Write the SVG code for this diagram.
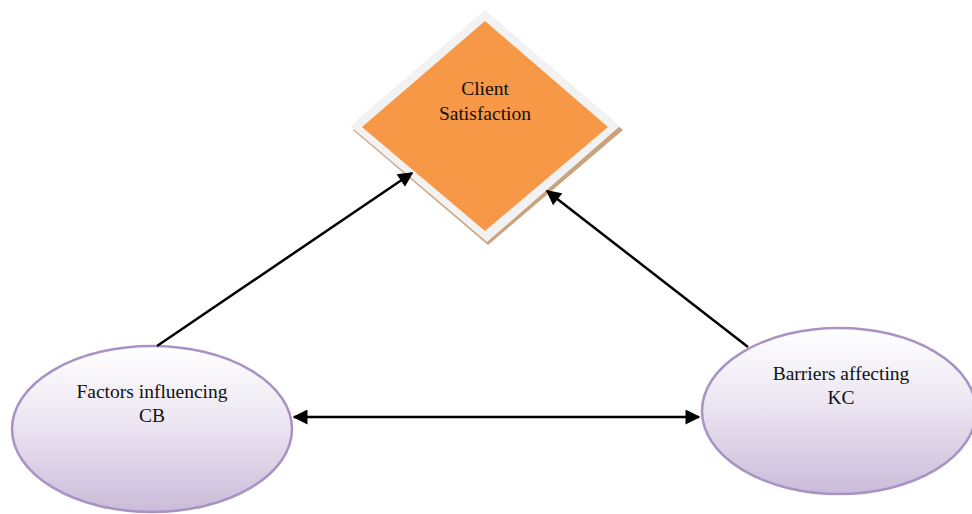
<svg xmlns="http://www.w3.org/2000/svg" width="972" height="514" viewBox="0 0 972 514">
<defs>
<linearGradient id="lav" x1="0" y1="0" x2="0" y2="1">
<stop offset="0" stop-color="#ffffff"/>
<stop offset="0.45" stop-color="#ece6f2"/>
<stop offset="1" stop-color="#cbbbd9"/>
</linearGradient>
<marker id="ah" viewBox="0 0 10 10" refX="9" refY="5" markerWidth="6.3" markerHeight="6" orient="auto-start-reverse" markerUnits="strokeWidth">
<path d="M0,0 L10,5 L0,10 z" fill="#000"/>
</marker>
<style>
.ell{fill:url(#lav);stroke:#a993c4;stroke-width:2.5}
.lbl{font-family:"Liberation Serif",serif;font-size:19.5px;fill:#111;text-anchor:middle}
.con{stroke:#000;stroke-width:2.5;fill:none}
</style>
</defs>
<rect width="972" height="514" fill="#fff"/>
<g id="client-satisfaction">
<polygon points="488,18 623,130 488,245 353,130" fill="#c9a27e"/>
<polygon points="485,10 620,126 487,242 350,126" fill="#f2f2f2"/>
<polygon points="485,21 608,127 485,231 362,127" fill="#f79847"/>
<text class="lbl" x="485" y="95">Client</text>
<text class="lbl" x="485" y="120">Satisfaction</text>
</g>
<g id="factors">
<ellipse class="ell" cx="152" cy="429" rx="140" ry="83"/>
<text class="lbl" x="152" y="398">Factors influencing</text>
<text class="lbl" x="152" y="422">CB</text>
</g>
<g id="barriers">
<ellipse class="ell" cx="839" cy="411" rx="137" ry="83"/>
<text class="lbl" x="841" y="380">Barriers affecting</text>
<text class="lbl" x="841" y="404">KC</text>
</g>
<g id="connectors">
<line class="con" x1="157" y1="346" x2="412" y2="173" marker-end="url(#ah)"/>
<line class="con" x1="748" y1="347" x2="547" y2="191" marker-end="url(#ah)"/>
<line class="con" x1="294" y1="417" x2="699" y2="417" marker-start="url(#ah)" marker-end="url(#ah)"/>
</g>
</svg>
